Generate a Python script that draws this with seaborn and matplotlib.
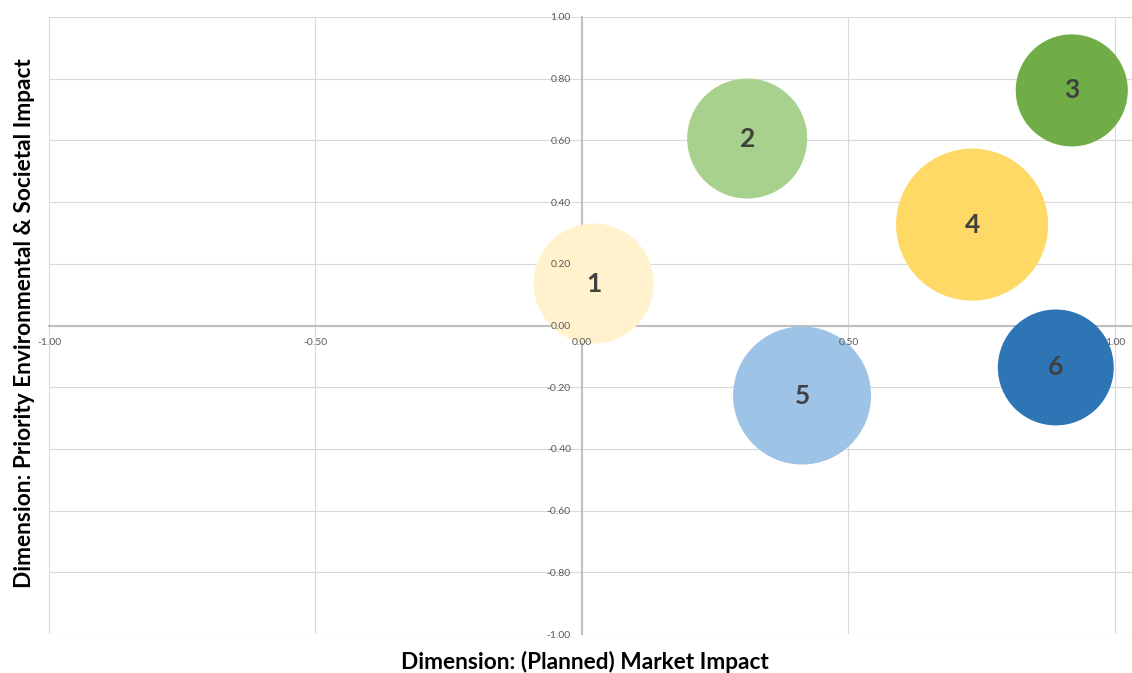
import matplotlib
matplotlib.use("Agg")
import matplotlib.pyplot as plt
import seaborn as sns
import pandas as pd

# ---- data ----
labels = ["1", "2", "3", "4", "5", "6"]
market_impact = [0.022, 0.310, 0.919, 0.732, 0.413, 0.889]
env_impact = [0.136, 0.606, 0.762, 0.327, -0.227, -0.136]
bubble_size = [36.0, 36.0, 31.4, 57.8, 47.6, 33.6]
colors = ["#FFF2CC", "#A9D18E", "#70AD47", "#FFD966", "#9DC3E6", "#2E75B6"]
x_ticks = [-1.0, -0.5, 0.0, 0.5, 1.0]
y_ticks = [-1.0, -0.8, -0.6, -0.4, -0.2, 0.0, 0.2, 0.4, 0.6, 0.8, 1.0]
x_title = "Dimension: (Planned) Market Impact"
y_title = "Dimension: Priority Environmental & Societal Impact"

df = pd.DataFrame({"label": labels, "x": market_impact, "y": env_impact,
                   "size": bubble_size})

sns.set_theme(style="white")
plt.rcParams["font.family"] = ["Lato", "DejaVu Sans"]

fig = plt.figure(figsize=(11.32, 6.73), dpi=100)
rect = [49 / 1132, 39 / 673, 1 - 49 / 1132, (634 - 17) / 673]
ax = fig.add_axes(rect)

k = 207.4
sns.scatterplot(data=df, x="x", y="y", hue="label", palette=colors,
                size="size", sizes=(0, 60 * k), size_norm=(0, 60),
                linewidth=0, alpha=1, legend=False, ax=ax, zorder=3,
                clip_on=False)

for lab, xv, yv in zip(labels, market_impact, env_impact):
    ax.text(xv, yv, lab, ha="center", va="center", fontsize=19,
            fontweight="bold", color="#404040", zorder=4)


def setup(a):
    a.set_xlim(-1.0, 1.032)
    a.set_ylim(-1.0, 1.0)
    a.set_xticks(x_ticks)
    a.set_yticks(y_ticks)
    a.set_xticklabels([f"{v:.2f}" for v in x_ticks])
    a.set_yticklabels([f"{v:.2f}" for v in y_ticks])
    a.tick_params(axis="both", length=0, labelsize=7.5, labelcolor="#595959")
    a.tick_params(axis="x", pad=9)
    a.tick_params(axis="y", pad=8)
    a.spines["left"].set_position(("data", 0))
    a.spines["bottom"].set_position(("data", 0))
    a.spines["top"].set_visible(False)
    a.spines["right"].set_visible(False)
    a.set_xlabel("")
    a.set_ylabel("")


setup(ax)
ax.tick_params(labelbottom=False, labelleft=False)
ax.grid(True, color="#D9D9D9", linewidth=0.8)
ax.set_axisbelow(True)
for s in ["left", "bottom"]:
    ax.spines[s].set_color("#BFBFBF")
    ax.spines[s].set_linewidth(1.5)
    ax.spines[s].set_zorder(2)

# overlay axes carrying only the tick labels (drawn above the bubbles)
ax2 = fig.add_axes(rect, sharex=None)
ax2.patch.set_alpha(0)
setup(ax2)
ax2.grid(False)
for s in ["left", "bottom"]:
    ax2.spines[s].set_visible(False)

fig.text(585 / 1132, 1 - 662 / 673, x_title, ha="center", va="center",
         fontsize=16.3, fontweight="bold", color="#000000")
fig.text(25 / 1132, 1 - 323 / 673, y_title, ha="center", va="center",
         rotation=90, fontsize=16.3, fontweight="bold", color="#000000")

fig.savefig("out.png", dpi=100)
